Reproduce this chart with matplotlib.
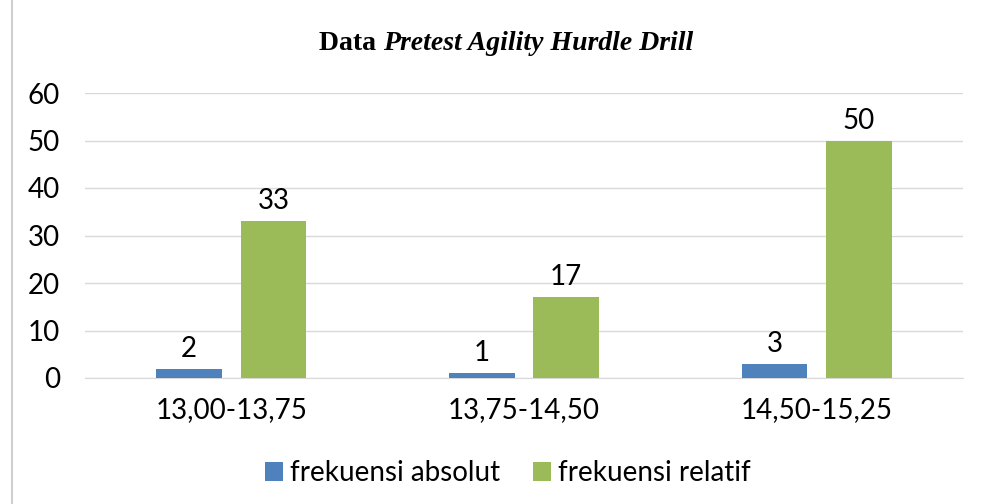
import numpy as np
import matplotlib
matplotlib.use("Agg")
import matplotlib.pyplot as plt
from matplotlib.lines import Line2D

categories = ["13,00-13,75", "13,75-14,50", "14,50-15,25"]
absolut = [2, 1, 3]
relatif = [33, 17, 50]
series_names = ["frekuensi absolut", "frekuensi relatif"]
yticks = [0, 10, 20, 30, 40, 50, 60]

blue = "#4F81BD"
green = "#9BBB59"
grid_c = "#D9D9D9"
font = "Lato"
fs = 20

fig = plt.figure(figsize=(9.81, 5.04), dpi=100)
ax = fig.add_axes([85 / 981, 126 / 504, 878 / 981, 285 / 504])

x = np.arange(len(categories))
w = 0.225
off = 0.144
b1 = ax.bar(x - off, absolut, w, color=blue, label=series_names[0], zorder=3)
b2 = ax.bar(x + off, relatif, w, color=green, label=series_names[1], zorder=3)

for bars, vals in ((b1, absolut), (b2, relatif)):
    for r, v in zip(bars, vals):
        ax.annotate(str(v), (r.get_x() + r.get_width() / 2, r.get_height()),
                    xytext=(0, 5), textcoords="offset points",
                    ha="center", va="bottom", fontsize=fs, family=font)

ax.set_xlim(-0.5, len(categories) - 0.5)
ax.set_ylim(0, 60)
ax.set_yticks(yticks)
ax.set_yticklabels([str(t) for t in yticks], family=font, fontsize=fs)
ax.set_xticks(x)
ax.set_xticklabels(categories, family=font, fontsize=fs)
ax.tick_params(length=0)
ax.tick_params(axis="y", pad=18)
ax.tick_params(axis="x", pad=14)
ax.yaxis.grid(True, color=grid_c, linewidth=1, zorder=0)
for s in ("top", "right", "left"):
    ax.spines[s].set_visible(False)
ax.spines["bottom"].set_color(grid_c)

# title with mixed upright / italic parts
fig.text(383 / 981, 1 - 44 / 504, "Data ", ha="right", va="center",
         family="Liberation Serif", weight="bold", fontsize=fs)
fig.text(383 / 981, 1 - 44 / 504, "Pretest Agility Hurdle Drill", ha="left", va="center",
         family="Liberation Serif", weight="bold", style="italic", fontsize=fs)

fig.legend(handles=[b1, b2], labels=series_names, loc="center",
           bbox_to_anchor=(508 / 981, 1 - 473 / 504), ncol=2, frameon=False,
           prop={"family": font, "size": fs}, handlelength=0.65, handleheight=0.65,
           handletextpad=0.25, columnspacing=1.2)

# left page border
fig.add_artist(Line2D([12 / 981, 12 / 981], [0, 1], color="#D0D0D0", linewidth=1.5))

fig.savefig("out.png", dpi=100)
